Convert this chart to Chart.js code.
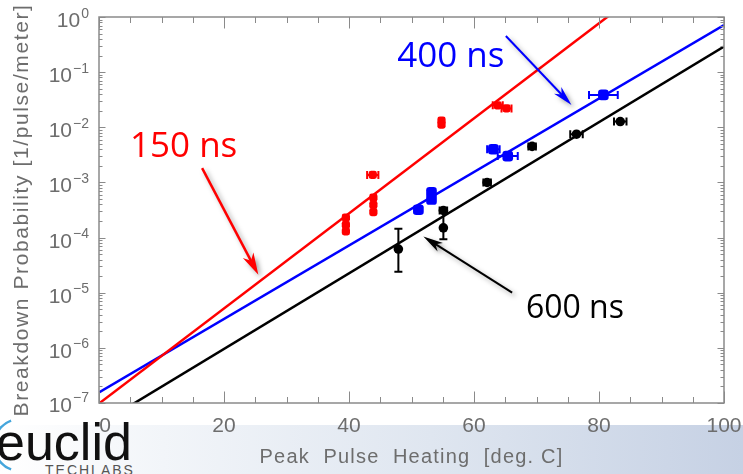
<!DOCTYPE html>
<html><head><meta charset="utf-8">
<script src="https://cdn.jsdelivr.net/npm/chart.js@4.4.0/dist/chart.umd.min.js"></script>
<style>
html,body{margin:0;padding:0;background:#fff;}
#wrap{position:relative;width:743px;height:474px;overflow:hidden;background:#fff;}
#band{position:absolute;left:0;top:425px;width:743px;height:49px;background:linear-gradient(to right,#ffffff 0%,#f2f5f9 22%,#dfe6f0 58%,#c6d1e4 100%);}
#logo{position:absolute;left:0;top:414px;}
#c{position:absolute;left:0;top:0;}
</style></head>
<body>
<div id="wrap">
  <div id="band"></div>
  <svg id="logo" width="200" height="60">
    <path d="M 11.1 6.6 A 26 26 0 0 0 11.1 55.4" stroke="#45a6dc" stroke-width="2.5" fill="none"/>
    <text x="-4" y="46" font-family="Liberation Sans, Arial, sans-serif" font-size="52" fill="#111">euclid</text>
    <text x="45" y="61" font-family="Liberation Sans, Arial, sans-serif" font-size="14" fill="#555" letter-spacing="2">TECHLABS</text>
  </svg>
  <canvas id="c" width="743" height="474"></canvas>
</div>
<script>
// ---- data ----
const xTicks = [0, 20, 40, 60, 80, 100];
const yDecades = [0, -1, -2, -3, -4, -5, -6, -7];

const x150 = [39.5, 39.5, 39.5, 43.9, 43.9, 43.9, 43.8, 54.8, 54.8, 63.8, 65.2];
const y150 = [2.3e-4, 1.7e-4, 1.3e-4, 5.3e-4, 3.9e-4, 2.9e-4, 1.37e-3, 1.32e-2, 1.12e-2, 2.5e-2, 2.2e-2];
const xErr150 = [0, 0, 0, 0, 0, 0, 0.9, 0, 0, 0.8, 0.8];

const x400 = [51.1, 53.2, 53.2, 63.1, 65.4, 80.7];
const y400 = [3.2e-4, 6.6e-4, 4.9e-4, 4.0e-3, 3.0e-3, 3.86e-2];
const xErr400 = [0.6, 0, 0, 1.0, 1.6, 2.3];

const x600 = [47.9, 55.1, 55.1, 62.1, 69.3, 76.4, 83.4];
const y600 = [6.2e-5, 3.1e-4, 1.5e-4, 1.0e-3, 4.5e-3, 7.5e-3, 1.27e-2];
const yLo600 = [2.4e-5, null, 9.3e-5, null, null, null, null];
const yHi600 = [1.44e-4, null, 2.9e-4, null, null, null, null];
const xErr600 = [0, 0.6, 0, 0.6, 0.6, 1.0, 1.0];

const fitX = [0, 100];
const fit150 = [9.8e-8, 40.7];
const fit400 = [1.56e-7, 0.716];
const fit600 = [4.07e-8, 0.29];

const seriesNames = ['150 ns', '400 ns', '600 ns'];
const seriesColors = ['#ff0000', '#0000ff', '#000000'];
// annotation anchors in data units
const labelAt = [[4.96, 10 ** -2.536], [47.7, 10 ** -0.90], [68.3, 10 ** -5.453]];
const labelSize = [35, 35, 32];
const arrowFrom = [[16.5, 10 ** -2.741], [65.1, 10 ** -0.344], [66.1, 10 ** -5.0]];
const arrowTo = [[25.5, 10 ** -4.674], [75.6, 10 ** -1.594], [51.9, 10 ** -3.98]];

const xTitle = 'Peak  Pulse  Heating  [deg. C]';
const yTitle = 'Breakdown Probability [1/pulse/meter]';
const GREY = '#6d6d6d';
const FRAME = '#8a8a8a';
const FONT = '"Liberation Sans", Arial, sans-serif';

const pts = (xs, ys) => xs.map((x, i) => ({x, y: ys[i]}));

const errPlugin = {
  id: 'errbars',
  beforeDatasetsDraw(chart) {
    const ctx = chart.ctx, xs = chart.scales.x, ys = chart.scales.y;
    const sets = [[x150, y150, xErr150, null, null, seriesColors[0]],
                  [x400, y400, xErr400, null, null, seriesColors[1]],
                  [x600, y600, xErr600, yLo600, yHi600, seriesColors[2]]];
    ctx.save();
    ctx.lineWidth = 2;
    for (const [xa, ya, xe, ylo, yhi, col] of sets) {
      ctx.strokeStyle = col;
      xa.forEach((x, i) => {
        const py = ys.getPixelForValue(ya[i]);
        if (xe[i]) {
          const a = xs.getPixelForValue(x - xe[i]), b = xs.getPixelForValue(x + xe[i]);
          ctx.beginPath();
          ctx.moveTo(a, py); ctx.lineTo(b, py);
          ctx.moveTo(a, py - 4); ctx.lineTo(a, py + 4);
          ctx.moveTo(b, py - 4); ctx.lineTo(b, py + 4);
          ctx.stroke();
        }
        if (ylo && ylo[i] != null) {
          const px = xs.getPixelForValue(x);
          const a = ys.getPixelForValue(ylo[i]), b = ys.getPixelForValue(yhi[i]);
          ctx.beginPath();
          ctx.moveTo(px, a); ctx.lineTo(px, b);
          ctx.moveTo(px - 4, a); ctx.lineTo(px + 4, a);
          ctx.moveTo(px - 4, b); ctx.lineTo(px + 4, b);
          ctx.stroke();
        }
      });
    }
    ctx.restore();
  }
};

function arrow(ctx, x0, y0, x1, y1, color, lw, hl, hw) {
  const dx = x1 - x0, dy = y1 - y0, L = Math.hypot(dx, dy);
  const ux = dx / L, uy = dy / L, nx = -uy, ny = ux;
  ctx.strokeStyle = color; ctx.fillStyle = color; ctx.lineWidth = lw;
  ctx.beginPath(); ctx.moveTo(x0, y0); ctx.lineTo(x1 - ux * hl * 0.6, y1 - uy * hl * 0.6); ctx.stroke();
  ctx.beginPath(); ctx.moveTo(x1, y1);
  ctx.lineTo(x1 - ux * hl + nx * hw, y1 - uy * hl + ny * hw);
  ctx.lineTo(x1 - ux * hl * 0.72, y1 - uy * hl * 0.72);
  ctx.lineTo(x1 - ux * hl - nx * hw, y1 - uy * hl - ny * hw);
  ctx.closePath(); ctx.fill();
}

const framePlugin = {
  id: 'frame',
  afterDraw(chart) {
    const ctx = chart.ctx, xs = chart.scales.x, ys = chart.scales.y, a = chart.chartArea;
    ctx.save();
    // frame
    ctx.strokeStyle = FRAME; ctx.lineWidth = 1.5;
    ctx.strokeRect(a.left, a.top, a.right - a.left, a.bottom - a.top);
    ctx.lineWidth = 1;
    ctx.beginPath();
    for (let v = 0; v <= 100; v += 5) {
      const px = Math.round(xs.getPixelForValue(v)) + 0.5;
      const len = v % 20 === 0 ? 11.5 : 6;
      ctx.moveTo(px, a.bottom); ctx.lineTo(px, a.bottom - len);
      ctx.moveTo(px, a.top); ctx.lineTo(px, a.top + len);
    }
    for (const d of yDecades) {
      for (let k = 1; k <= 9; k++) {
        if (d === 0 && k > 1) break;
        const py = Math.round(ys.getPixelForValue(k * 10 ** d)) + 0.5;
        const len = k === 1 ? 6.5 : 3.5;
        ctx.moveTo(a.left, py); ctx.lineTo(a.left + len, py);
        ctx.moveTo(a.right, py); ctx.lineTo(a.right - len, py);
      }
    }
    ctx.stroke();

    // x tick labels
    ctx.fillStyle = GREY; ctx.textBaseline = 'alphabetic'; ctx.textAlign = 'center';
    ctx.font = '21px ' + FONT;
    for (const v of xTicks) {
      const shift = v === 0 ? 6 : 0;
      ctx.fillText(String(v), xs.getPixelForValue(v) + shift, a.bottom + 28.5);
    }

    // y tick labels with superscripts
    ctx.textAlign = 'left';
    for (const d of yDecades) {
      const py = ys.getPixelForValue(10 ** d);
      const sup = d === 0 ? '0' : '\u2212' + (-d);
      ctx.font = '14px ' + FONT; const w2 = ctx.measureText(sup).width;
      ctx.font = '21px ' + FONT; const w1 = ctx.measureText('10').width;
      const xEnd = 89;
      const off = d === -7 ? 8.5 : 10;
      ctx.fillText('10', xEnd - w2 - 1 - w1, py + off);
      ctx.font = '14px ' + FONT;
      ctx.fillText(sup, xEnd - w2, py + off - 9.5);
    }

    // axis titles
    ctx.font = '20px ' + FONT; ctx.letterSpacing = '1.2px'; ctx.textAlign = 'center';
    ctx.fillText(xTitle, (a.left + a.right) / 2, 463);
    ctx.save();
    ctx.translate(22, 210); ctx.rotate(-Math.PI / 2);
    ctx.font = '21px ' + FONT; ctx.letterSpacing = '1.6px'; ctx.textBaseline = 'middle';
    ctx.fillText(yTitle, 0, 0);
    ctx.restore();
    ctx.letterSpacing = '0px';

    // annotations
    for (let i = 0; i < 3; i++) {
      ctx.save();
      ctx.shadowColor = 'rgba(0,0,0,0.35)'; ctx.shadowBlur = 5; ctx.shadowOffsetX = 3; ctx.shadowOffsetY = 3;
      const f = arrowFrom[i], t = arrowTo[i];
      arrow(ctx, xs.getPixelForValue(f[0]), ys.getPixelForValue(f[1]),
                 xs.getPixelForValue(t[0]), ys.getPixelForValue(t[1]),
                 seriesColors[i], i === 0 ? 2.5 : 2, i === 0 ? 22 : 20, i === 0 ? 6 : 5);
      ctx.restore();
      ctx.save();
      ctx.fillStyle = seriesColors[i]; ctx.textAlign = 'left'; ctx.textBaseline = 'alphabetic';
      ctx.font = labelSize[i] + 'px "Open Sans", sans-serif';
      ctx.fillText(seriesNames[i], xs.getPixelForValue(labelAt[i][0]), ys.getPixelForValue(labelAt[i][1]));
      ctx.restore();
    }
    ctx.restore();
  }
};

new Chart(document.getElementById('c'), {
  type: 'scatter',
  data: {
    datasets: [
      {label: seriesNames[0], data: pts(x150, y150), backgroundColor: seriesColors[0], borderWidth: 0,
       pointStyle: 'rectRounded', pointRadius: 4.8, order: 1},
      {label: seriesNames[1], data: pts(x400, y400), backgroundColor: seriesColors[1], borderWidth: 0,
       pointStyle: 'rectRounded', pointRadius: 6.2, order: 1},
      {label: seriesNames[2], data: pts(x600, y600), backgroundColor: seriesColors[2], borderWidth: 0,
       pointStyle: 'circle', pointRadius: 4.8, order: 1},
      {label: seriesNames[0] + ' fit', data: pts(fitX, fit150), showLine: true, borderColor: seriesColors[0],
       borderWidth: 2.5, pointRadius: 0, order: 2},
      {label: seriesNames[1] + ' fit', data: pts(fitX, fit400), showLine: true, borderColor: seriesColors[1],
       borderWidth: 2.5, pointRadius: 0, order: 2},
      {label: seriesNames[2] + ' fit', data: pts(fitX, fit600), showLine: true, borderColor: seriesColors[2],
       borderWidth: 2.5, pointRadius: 0, order: 2}
    ]
  },
  options: {
    responsive: false, animation: false, devicePixelRatio: 1,
    layout: {padding: {top: 17, right: 19, left: 0, bottom: 0}},
    plugins: {legend: {display: false}, tooltip: {enabled: false}},
    scales: {
      x: {type: 'linear', min: 0, max: 100,
          afterBuildTicks(s) { s.ticks = xTicks.map(v => ({value: v})); },
          ticks: {display: false},
          grid: {display: false, drawTicks: false}, border: {display: false},
          afterFit(s) { s.height = 71; }},
      y: {type: 'logarithmic', min: 1e-7, max: 1,
          ticks: {display: false}, grid: {display: false, drawTicks: false}, border: {display: false},
          afterFit(s) { s.width = 99; }}
    }
  },
  plugins: [errPlugin, framePlugin]
});
</script>
</body></html>
